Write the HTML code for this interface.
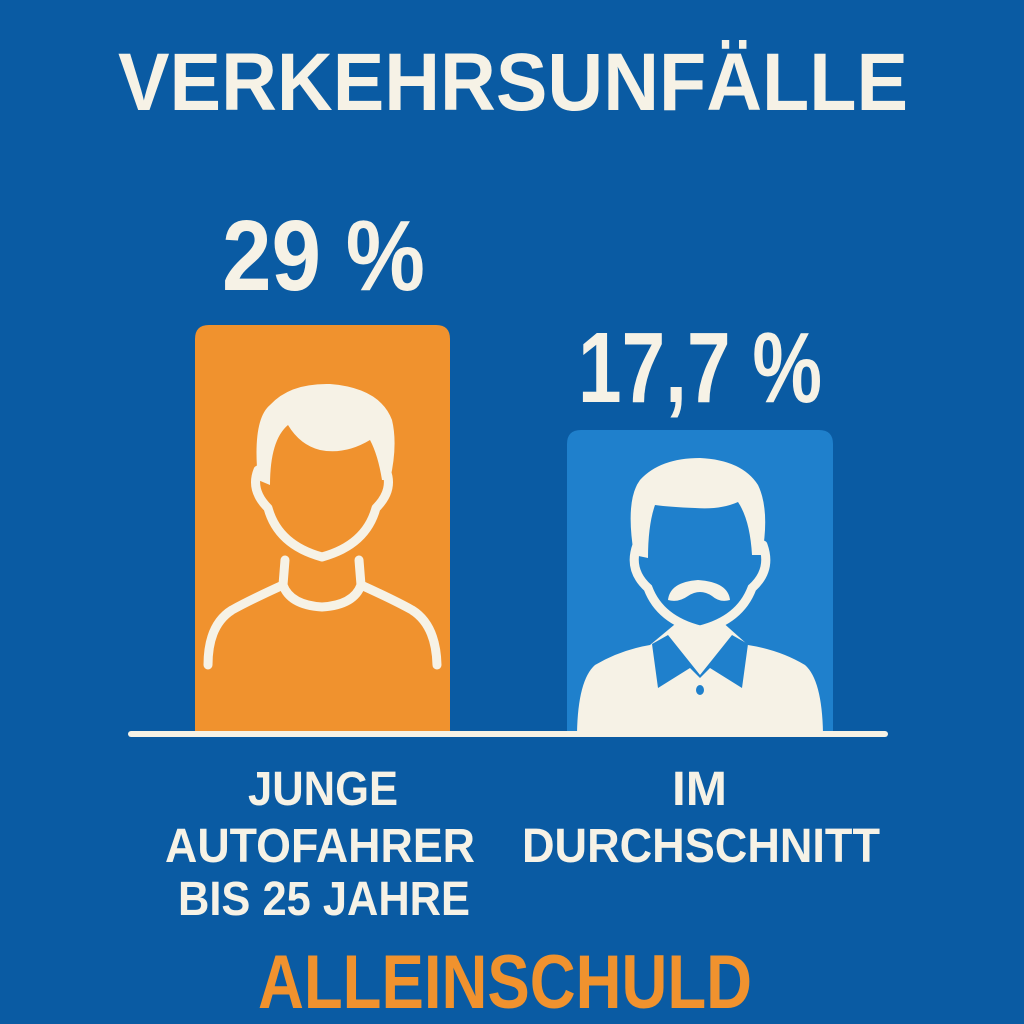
<!DOCTYPE html>
<html><head><meta charset="utf-8"><style>html,body{margin:0;padding:0;background:#0a5ba3}svg{display:block}</style></head>
<body>
<svg width="1024" height="1024" viewBox="0 0 1024 1024" xmlns="http://www.w3.org/2000/svg">
<rect width="1024" height="1024" fill="#0a5ba3"/>
<g font-family="Liberation Sans, sans-serif" font-weight="bold" fill="#f6f2e6">
<text x="118" y="110" font-size="82" textLength="790" lengthAdjust="spacingAndGlyphs">VERKEHRSUNFÄLLE</text>
<text x="222" y="290" font-size="100" textLength="203" lengthAdjust="spacingAndGlyphs">29 %</text>
<text x="578" y="402" font-size="100" textLength="244" lengthAdjust="spacingAndGlyphs">17,7 %</text>
<text x="248" y="805" font-size="48" textLength="150" lengthAdjust="spacingAndGlyphs">JUNGE</text>
<text x="165" y="862" font-size="48" textLength="310" lengthAdjust="spacingAndGlyphs">AUTOFAHRER</text>
<text x="178" y="915" font-size="48" textLength="292" lengthAdjust="spacingAndGlyphs">BIS 25 JAHRE</text>
<text x="672" y="805" font-size="48" textLength="55" lengthAdjust="spacingAndGlyphs">IM</text>
<text x="522" y="862" font-size="48" textLength="358" lengthAdjust="spacingAndGlyphs">DURCHSCHNITT</text>
<text x="258" y="1008" font-size="76" fill="#f0922e" textLength="494" lengthAdjust="spacingAndGlyphs">ALLEINSCHULD</text>
</g>
<path d="M195 733 V339 Q195 325 209 325 H436 Q450 325 450 339 V733 Z" fill="#f0922e"/>
<path d="M567 733 V444 Q567 430 581 430 H819 Q833 430 833 444 V733 Z" fill="#1f80cc"/>
<!-- young man -->
<g fill="none" stroke="#f6f2e6" stroke-width="9" stroke-linecap="round" stroke-linejoin="round">
<path d="M258 470 Q250 490 268 508 Q278 545 322 557 Q366 545 376 508 Q394 490 386 470"/>
<path d="M285 560 L283 585 Q290 605 322 607 Q354 605 361 585 L359 560"/>
<path d="M283 585 Q250 600 232 610 Q208 625 208 665"/>
<path d="M361 585 Q394 600 412 610 Q436 625 437 665"/>
</g>
<path d="M258 480 Q252 420 270 405 Q290 383 330 384 Q380 388 392 420 Q398 445 390 480 L382 480 Q378 455 370 440 Q345 455 320 450 Q300 445 288 425 Q270 440 270 485 Z" fill="#f6f2e6"/>
<!-- old man -->
<path d="M577 733 Q578 680 595 665 Q620 650 650 645 L680 620 Q700 632 720 620 L748 645 Q780 650 805 665 Q822 680 823 733 Z" fill="#f6f2e6"/>
<path d="M652 644 L658 688 L690 668 L700 678 L710 668 L742 688 L748 644 L732 635 L700 675 L668 635 Z" fill="#1f80cc"/>
<ellipse cx="700" cy="690" rx="4" ry="5" fill="#1f80cc"/>
<g fill="none" stroke="#f6f2e6" stroke-width="9" stroke-linecap="round">
<path d="M637 545 Q628 570 648 588 Q660 620 700 630 Q740 620 752 588 Q772 570 763 545"/>
</g>
<path d="M634 555 Q625 500 640 480 Q660 458 700 458 Q742 460 758 485 Q770 510 762 555 L752 555 Q750 520 738 502 Q720 510 695 508 Q670 507 655 505 Q648 525 648 558 Z" fill="#f6f2e6"/>
<path d="M668 600 Q670 582 698 580 Q728 582 730 600 Q720 603 712 596 Q700 588 688 596 Q678 603 668 600 Z" fill="#f6f2e6"/>
<rect x="128" y="731" width="760" height="6" rx="3" fill="#f6f2e6"/>
</svg>
</body></html>
